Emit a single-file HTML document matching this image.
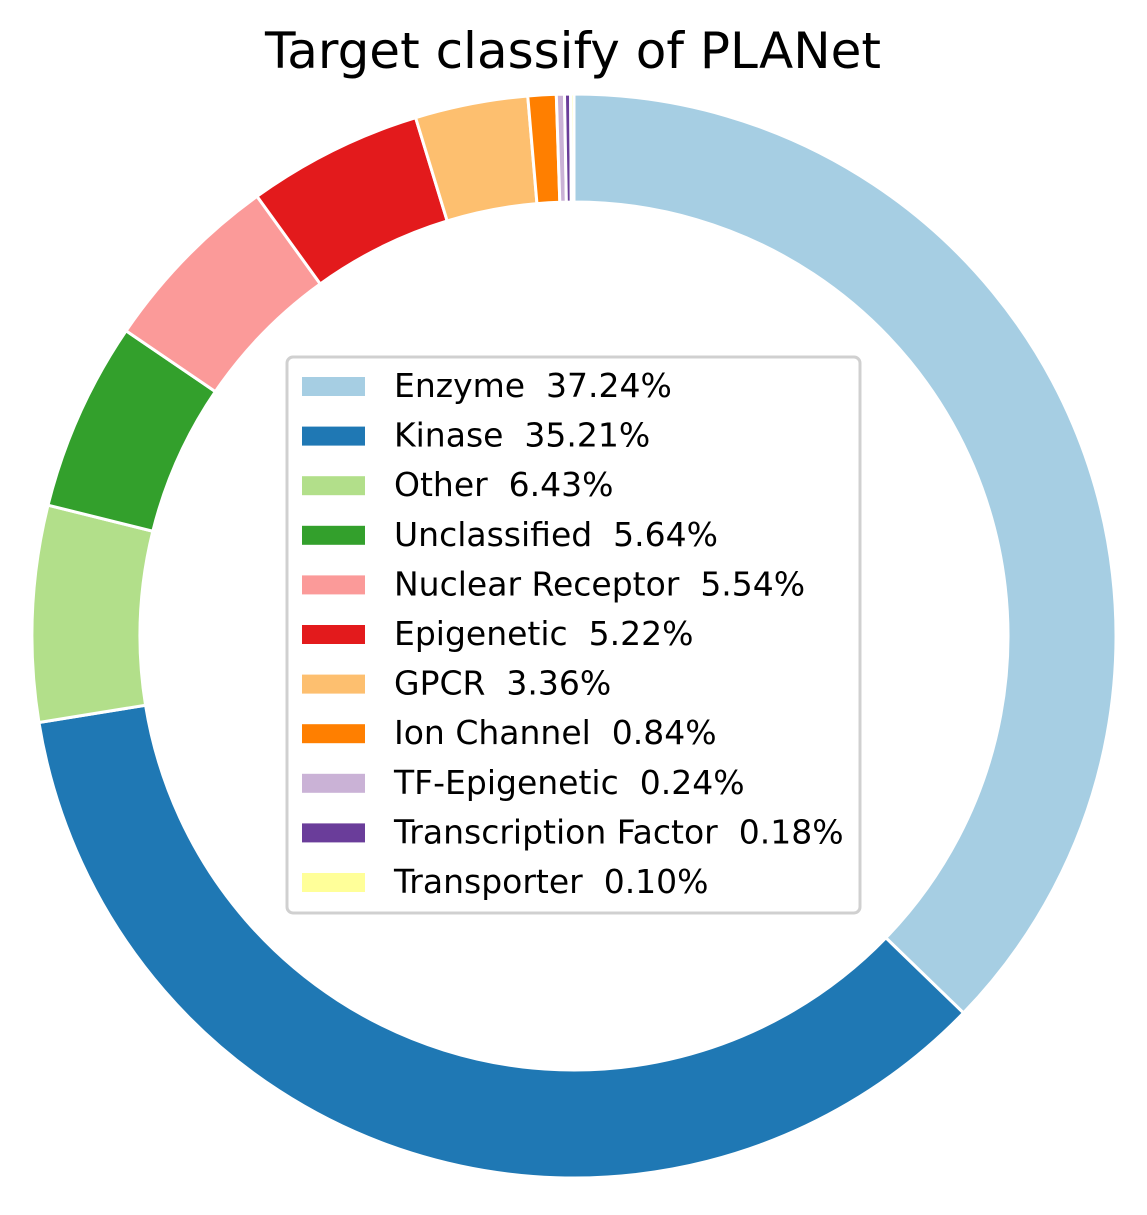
<!DOCTYPE html>
<html><head><meta charset="utf-8"><style>
body{margin:0;background:#fff;width:1147px;height:1210px;overflow:hidden;font-family:"Liberation Sans","DejaVu Sans",sans-serif}
</style></head><body>
<svg width="1147" height="1210" viewBox="0 0 1147 1210">
<text x="573" y="68" text-anchor="middle" font-size="50" fill="#000" font-family="DejaVu Sans, Liberation Sans, sans-serif">Target classify of PLANet</text>
<g id="slices"></g>
<g id="legend"></g>
</svg>
<script>
const categories=["Enzyme","Kinase","Other","Unclassified","Nuclear Receptor","Epigenetic","GPCR","Ion Channel","TF-Epigenetic","Transcription Factor","Transporter"];
const values=[37.24,35.21,6.43,5.64,5.54,5.22,3.36,0.84,0.24,0.18,0.10];
const labels=["37.24%","35.21%","6.43%","5.64%","5.54%","5.22%","3.36%","0.84%","0.24%","0.18%","0.10%"];
const colors=["#a6cee3","#1f78b4","#b2df8a","#33a02c","#fb9a99","#e31a1c","#fdbf6f","#ff7f00","#cab2d6","#6a3d9a","#ffff99"];
const NS="http://www.w3.org/2000/svg";
const cx=574,cy=636,R=542,r=434;
const total=values.reduce((a,b)=>a+b,0);
function pt(a,rad){return [cx+rad*Math.sin(a),cy-rad*Math.cos(a)];}
const g=document.getElementById('slices');
let acc=0;
values.forEach((v,i)=>{
  const a0=acc/total*2*Math.PI; acc+=v; const a1=acc/total*2*Math.PI;
  const large=(a1-a0)>Math.PI?1:0;
  const [x0,y0]=pt(a0,R),[x1,y1]=pt(a1,R),[x2,y2]=pt(a1,r),[x3,y3]=pt(a0,r);
  const p=document.createElementNS(NS,'path');
  p.setAttribute('d',`M${x0},${y0}A${R},${R} 0 ${large} 1 ${x1},${y1}L${x2},${y2}A${r},${r} 0 ${large} 0 ${x3},${y3}Z`);
  p.setAttribute('fill',colors[i]);p.setAttribute('stroke','#fff');p.setAttribute('stroke-width','3');
  
  
  g.appendChild(p);
});
const lg=document.getElementById('legend');
const box=document.createElementNS(NS,'rect');
box.setAttribute('x',287);box.setAttribute('y',357);box.setAttribute('width',573);box.setAttribute('height',556);
box.setAttribute('rx',6);box.setAttribute('fill','#fff');box.setAttribute('stroke','#d0d0d0');box.setAttribute('stroke-width','3');


lg.appendChild(box);
categories.forEach((c,i)=>{
  const y=386+i*49.6;
  const sw=document.createElementNS(NS,'rect');
  sw.setAttribute('x',302);sw.setAttribute('y',y-9);sw.setAttribute('width',63);sw.setAttribute('height',19);sw.setAttribute('fill',colors[i]);
  
  
  lg.appendChild(sw);
  const t=document.createElementNS(NS,'text');
  t.setAttribute('x',394);t.setAttribute('y',y+11);t.setAttribute('font-size','33');
  t.setAttribute('font-family','DejaVu Sans, Liberation Sans, sans-serif');
  t.textContent=c+'\u00a0\u00a0'+labels[i];
  
  
  lg.appendChild(t);
});
</script>
</body></html>
